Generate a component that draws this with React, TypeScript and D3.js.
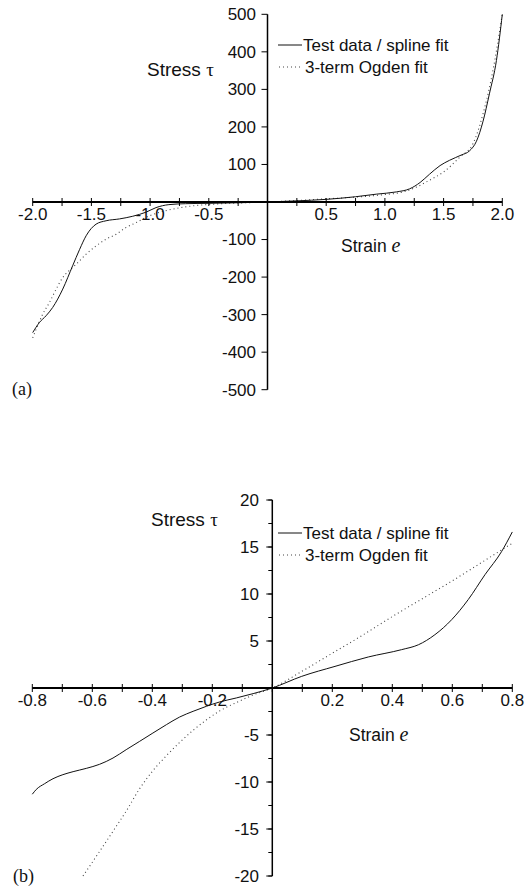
import React from "react";
import * as d3 from "d3";

// ---------- Panel (a) data ----------
const aSplineStrain = [-2.0, -1.943, -1.886, -1.83, -1.744, -1.66, -1.6, -1.545, -1.46, -1.375, -1.26, -1.148, -1.034, -0.95, -0.84, -0.7, -0.5, -0.25, 0, 0.25, 0.5, 0.75, 0.93, 1.1, 1.21, 1.3, 1.38, 1.47, 1.55, 1.65, 1.72, 1.78, 1.836, 1.89, 1.95, 2.0];
const aSplineStress = [-348, -321, -303, -281, -232, -170, -126, -90, -59, -50, -45, -38, -27, -15, -7, -4.5, -3.5, -2, 0, 3, 7, 14, 21, 27, 35, 52, 74, 97, 111, 125, 136, 162, 215, 288, 377, 500];
const aOgdenStrain = [-2.0, -1.915, -1.858, -1.8, -1.744, -1.69, -1.63, -1.545, -1.46, -1.375, -1.29, -1.205, -1.12, -1.0, -0.85, -0.7, -0.42, -0.13, 0, 0.25, 0.5, 0.75, 1.0, 1.16, 1.27, 1.38, 1.5, 1.64, 1.75, 1.836, 1.92, 2.0];
const aOgdenStress = [-362, -299, -268, -232, -201, -183, -166, -139, -117, -99, -86, -68, -55, -36, -22, -13, -5, -1.5, 0, 4, 8.5, 13, 20, 27, 40, 58, 80, 120, 155, 235, 350, 500];
const aXTickLabels = ["-2.0", "-1.5", "-1.0", "-0.5", "0.5", "1.0", "1.5", "2.0"];
const aYTickLabels = ["500", "400", "300", "200", "100", "-100", "-200", "-300", "-400", "-500"];

// ---------- Panel (b) data ----------
const bSplineStrain = [-0.8, -0.787, -0.759, -0.731, -0.698, -0.664, -0.62, -0.576, -0.531, -0.487, -0.442, -0.398, -0.353, -0.309, -0.264, -0.22, -0.176, -0.12, -0.064, 0, 0.098, 0.209, 0.32, 0.431, 0.487, 0.542, 0.598, 0.653, 0.709, 0.764, 0.8];
const bSplineStress = [-11.3, -10.8, -10.18, -9.65, -9.22, -8.9, -8.55, -8.12, -7.45, -6.56, -5.67, -4.79, -3.9, -3.09, -2.48, -1.95, -1.49, -1.06, -0.6, 0, 1.24, 2.3, 3.3, 4.08, 4.6, 5.67, 7.27, 9.4, 12.06, 14.5, 16.6];
const bOgdenStrain = [-0.631, -0.576, -0.526, -0.487, -0.442, -0.398, -0.353, -0.309, -0.264, -0.22, -0.176, -0.12, -0.064, 0, 0.1, 0.2, 0.3, 0.4, 0.5, 0.6, 0.7, 0.8];
const bOgdenStress = [-20, -17.4, -15, -13.1, -10.7, -8.8, -7.2, -5.8, -4.5, -3.4, -2.45, -1.55, -0.75, 0, 1.8, 3.7, 5.6, 7.6, 9.5, 11.4, 13.4, 15.4];
const bXTickLabels = ["-0.8", "-0.6", "-0.4", "-0.2", "0.2", "0.4", "0.6", "0.8"];
const bYTickLabels = ["20", "15", "10", "5", "-5", "-10", "-15", "-20"];

const legendLabels = ["Test data / spline fit", "3-term Ogden fit"];
const SANS = "'Liberation Sans', Arial, sans-serif";
const SERIF = "'Liberation Serif', 'Times New Roman', serif";

type PanelProps = {
  xDomain: [number, number];
  yDomain: [number, number];
  xRange: [number, number];
  yRange: [number, number];
  xMinorStep: number;
  yMinorStep: number | null;
  xLabels: string[];
  yLabels: string[];
  splineX: number[];
  splineY: number[];
  ogdenX: number[];
  ogdenY: number[];
  stressPos: [number, number];
  strainPos: [number, number];
  legendPos: [number, number];
  tag: string;
  tagPos: [number, number];
  yLabelEnd: number;
};

function Panel(p: PanelProps) {
  const x = d3.scaleLinear().domain(p.xDomain).range(p.xRange);
  const y = d3.scaleLinear().domain(p.yDomain).range(p.yRange);
  const x0 = x(0);
  const y0 = y(0);
  const line = d3
    .line<[number, number]>()
    .x((d) => x(d[0]))
    .y((d) => y(d[1]))
    .curve(d3.curveMonotoneX);
  const spline = p.splineX.map((v, i) => [v, p.splineY[i]] as [number, number]);
  const ogden = p.ogdenX.map((v, i) => [v, p.ogdenY[i]] as [number, number]);
  const nx = Math.round((p.xDomain[1] - p.xDomain[0]) / p.xMinorStep);
  const xTicks = d3.range(nx + 1).map((i) => p.xDomain[0] + i * p.xMinorStep);
  const yMajor = p.yLabels.map((s) => +s);
  const yMinor: number[] = [];
  if (p.yMinorStep) {
    const n = Math.round((p.yDomain[1] - p.yDomain[0]) / p.yMinorStep);
    for (let i = 0; i <= n; i++) yMinor.push(p.yDomain[0] + i * p.yMinorStep);
  }
  const [lx, ly] = p.legendPos;
  return (
    <g>
      {/* curves */}
      <path d={line(ogden) || ""} fill="none" stroke="#444" strokeWidth={1.1} strokeDasharray="1 3" />
      <path d={line(spline) || ""} fill="none" stroke="#111" strokeWidth={1} />
      {/* x axis */}
      <line x1={p.xRange[0]} x2={p.xRange[1]} y1={y0} y2={y0} stroke="#000" strokeWidth={2} />
      {xTicks.map((t, i) => (
        <line key={"xt" + i} x1={x(t)} x2={x(t)} y1={y0 - 4} y2={y0 + 4} stroke="#000" strokeWidth={1} />
      ))}
      {p.xLabels.map((s) => (
        <text key={"xl" + s} x={x(+s)} y={y0 + 18} textAnchor="middle" fontFamily={SANS} fontSize={17} fill="#111">
          {s}
        </text>
      ))}
      {/* y axis */}
      <line x1={x0} x2={x0} y1={p.yRange[1]} y2={p.yRange[0]} stroke="#000" strokeWidth={1.5} />
      {yMinor.map((t, i) => (
        <line key={"ym" + i} x1={x0 - 4} x2={x0} y1={y(t)} y2={y(t)} stroke="#000" strokeWidth={1} />
      ))}
      {yMajor.map((t, i) => (
        <line key={"yt" + i} x1={x0 - 6} x2={x0} y1={y(t)} y2={y(t)} stroke="#000" strokeWidth={1} />
      ))}
      {p.yLabels.map((s) => (
        <text key={"yl" + s} x={p.yLabelEnd} y={y(+s)} dy="0.35em" textAnchor="end" fontFamily={SANS} fontSize={17} fill="#111">
          {s}
        </text>
      ))}
      {/* axis titles */}
      <text x={p.stressPos[0]} y={p.stressPos[1]} fontFamily={SANS} fontSize={19} fill="#111">
        Stress <tspan fontFamily={SERIF} fontSize={19}>τ</tspan>
      </text>
      <text x={p.strainPos[0]} y={p.strainPos[1]} fontFamily={SANS} fontSize={17.5} fill="#111">
        Strain <tspan fontFamily={SERIF} fontStyle="italic" fontSize={20}>e</tspan>
      </text>
      {/* legend */}
      <line x1={lx} x2={lx + 24} y1={ly} y2={ly} stroke="#111" strokeWidth={1} />
      <text x={lx + 25} y={ly} dy="0.35em" fontFamily={SANS} fontSize={17} fill="#111">
        {legendLabels[0]}
      </text>
      <line x1={lx + 1} x2={lx + 24} y1={ly + 22} y2={ly + 22} stroke="#444" strokeWidth={1.1} strokeDasharray="1 3" />
      <text x={lx + 27} y={ly + 22} dy="0.35em" fontFamily={SANS} fontSize={17} fill="#111">
        {legendLabels[1]}
      </text>
      <text x={p.tagPos[0]} y={p.tagPos[1]} fontFamily={SERIF} fontSize={18} fill="#111">
        {p.tag}
      </text>
    </g>
  );
}

export default function App() {
  return (
    <svg width={527} height={888} style={{ position: "absolute", left: 0, top: 0, background: "#fff" }}>
      <rect width={527} height={888} fill="#fff" />
      <Panel
        xDomain={[-2, 2]}
        yDomain={[-500, 500]}
        xRange={[32.7, 502.3]}
        yRange={[389.7, 14.3]}
        xMinorStep={0.25}
        yMinorStep={null}
        xLabels={aXTickLabels}
        yLabels={aYTickLabels}
        splineX={aSplineStrain}
        splineY={aSplineStress}
        ogdenX={aOgdenStrain}
        ogdenY={aOgdenStress}
        stressPos={[147, 76]}
        strainPos={[341, 252]}
        legendPos={[278, 45]}
        tag="(a)"
        tagPos={[12, 395]}
        yLabelEnd={256}
      />
      <Panel
        xDomain={[-0.8, 0.8]}
        yDomain={[-20, 20]}
        xRange={[32.3, 512.3]}
        yRange={[876, 500]}
        xMinorStep={0.1}
        yMinorStep={2.5}
        xLabels={bXTickLabels}
        yLabels={bYTickLabels}
        splineX={bSplineStrain}
        splineY={bSplineStress}
        ogdenX={bOgdenStrain}
        ogdenY={bOgdenStress}
        stressPos={[151, 526]}
        strainPos={[349, 741]}
        legendPos={[278, 533]}
        tag="(b)"
        tagPos={[13, 882]}
        yLabelEnd={259}
      />
    </svg>
  );
}
